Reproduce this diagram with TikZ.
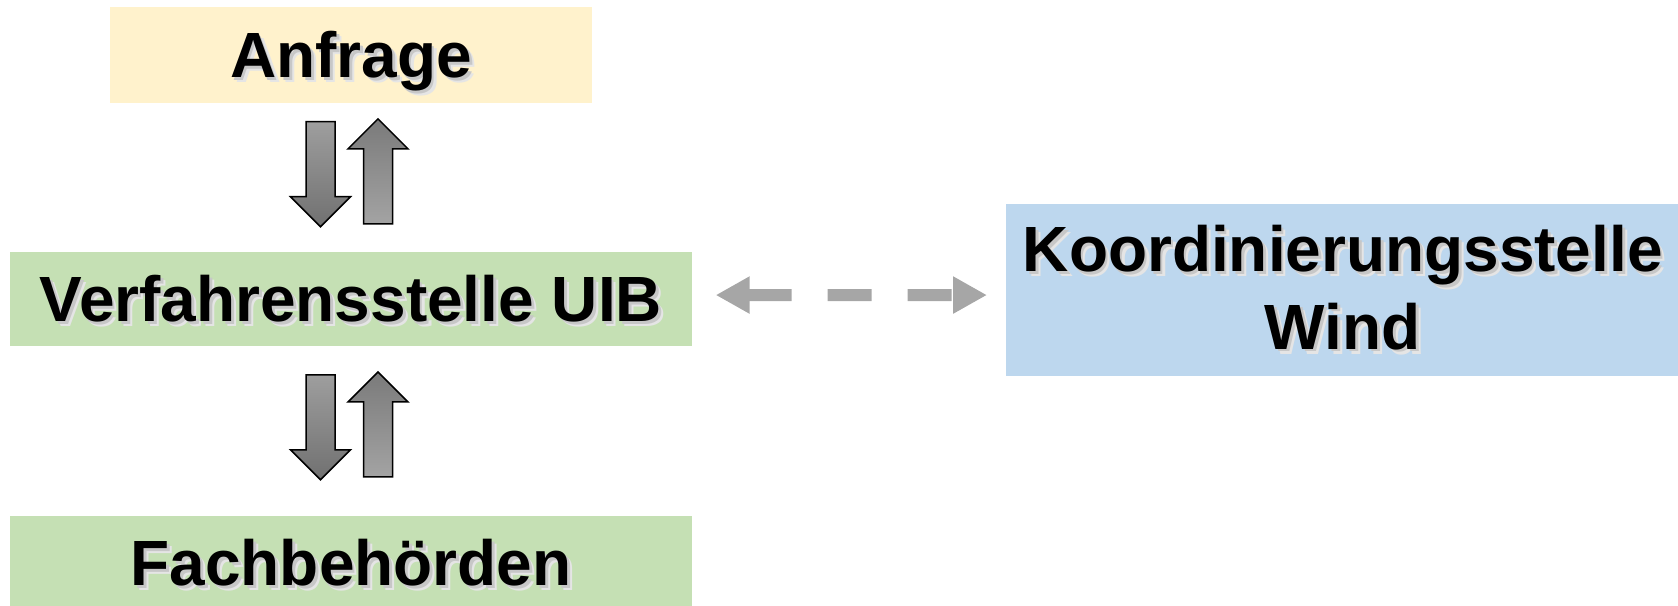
\documentclass[tikz,border=0pt]{standalone}
\usepackage{fontspec}
\setmainfont{Liberation Sans}
\usetikzlibrary{positioning,calc,arrows.meta}
\definecolor{anfyellow}{HTML}{FFF2CC}
\definecolor{verfgreen}{HTML}{C5E0B4}
\definecolor{koordblue}{HTML}{BDD7EE}
\definecolor{arrgray}{HTML}{A6A6A6}
\newcommand{\shadowed}[1]{\makebox[0pt][l]{\hspace{1.4pt}\raisebox{-1.4pt}{\color{black!10}#1}}\makebox[0pt][l]{\hspace{0.8pt}\raisebox{-0.8pt}{\color{black!22}#1}}#1}
\tikzset{
  box/.style={rectangle, inner sep=0pt, font=\fontsize{18.2}{22}\selectfont\bfseries, align=center},
  oneline/.style={text height=13pt, text depth=0pt},
  blockdown/.style={draw=black, line width=0.15mm, line join=miter, top color=black!38, bottom color=black!56},
  blockup/.style={draw=black, line width=0.15mm, line join=miter, top color=black!52, bottom color=black!36},
  dasharr/.style={draw=arrgray, line width=1.2mm, dash pattern=on 4.4mm off 3.6mm,
    {Triangle[length=3.4mm,width=3.5mm]}-{Triangle[length=3.4mm,width=3.5mm]},
    shorten <=2.3mm, shorten >=1.8mm}
}

\begin{document}
\begin{tikzpicture}[x=0.1mm, y=-0.1mm]
\useasboundingbox (0,0) rectangle (1678,606);

% Boxes
\node[box, oneline, fill=anfyellow, minimum width=48.2mm, minimum height=9.6mm]            (anf)   at (351,55) {\shadowed{Anfrage}};
\node[box, oneline, fill=verfgreen, minimum width=68.2mm, minimum height=9.33mm, below = 14.8mm of anf]  (verf)  {\shadowed{Verfahrensstelle UIB}};
\node[box, oneline, fill=verfgreen, minimum width=68.2mm, minimum height=9.33mm, below = 16.87mm of verf] (fach) {\shadowed{Fachbehörden}};
\node[box, fill=koordblue, minimum width=67.4mm, minimum height=17.15mm, right = 31.23mm of verf, yshift = .9mm] (koord) {\shadowed{Koordinierungsstelle}\\\shadowed{Wind}};

% Block arrows between the boxes
\foreach \a/\b in {anf/verf, verf/fach}{
  \coordinate (m) at ($(\a.south)!0.5!(\b.north)$);
  \filldraw[blockdown] ($(m)+(-30.5,-3.5)$) +(-14.5,-52.5) -- +(14.5,-52.5) -- +(14.5,22.5) -- +(30,22.5) -- +(0,52.5) -- +(-30,22.5) -- +(-14.5,22.5) -- cycle;
  \filldraw[blockup]   ($(m)+(27,-6.3)$)    +(-14.5,52.5) -- +(14.5,52.5) -- +(14.5,-22.5) -- +(30,-22.5) -- +(0,-52.5) -- +(-30,-22.5) -- +(-14.5,-22.5) -- cycle;
}

% Dashed connector
\draw[dasharr] ([yshift=.4mm]verf.east) -- ([yshift=-.5mm]koord.west);
\end{tikzpicture}
\end{document}
